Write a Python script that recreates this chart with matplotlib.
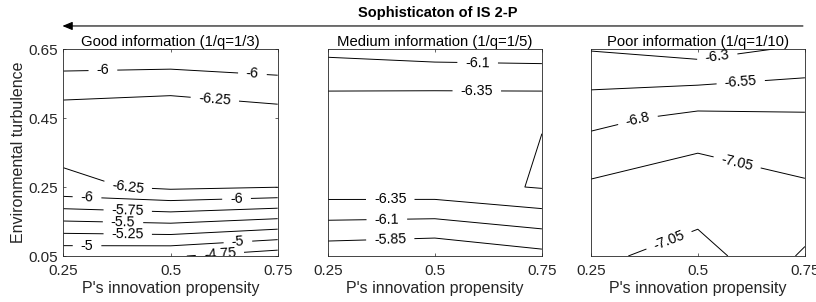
import numpy as np
import matplotlib
matplotlib.use('Agg')
import matplotlib.pyplot as plt

plt.rcParams['font.family'] = ['Liberation Sans', 'DejaVu Sans']

# grid of the simulation: innovation propensity (x) and turbulence (y)
propensity = [0.25, 0.5, 0.75]
turbulence = [0.05, 0.25, 0.45, 0.65]

# performance values, one row per turbulence level
good_info = [
    [-4.790, -4.775, -4.610],
    [-6.190, -6.300, -6.255],
    [-6.405, -6.461, -6.369],
    [-5.810, -5.810, -5.774],
]
medium_info = [
    [-5.670, -5.618, -5.765],
    [-6.500, -6.510, -6.617],
    [-6.549, -6.588, -6.595],
    [-6.039, -5.986, -5.967],
]
poor_info = [
    [-7.110, -6.939, -7.335],
    [-7.091, -7.225, -7.080],
    [-6.731, -6.868, -6.842],
    [-6.287, -6.200, -6.341],
]

good_levels = [-6.25, -6, -5.75, -5.5, -5.25, -5, -4.75]
medium_levels = [-6.6, -6.35, -6.1, -5.85]
poor_levels = [-7.3, -7.05, -6.8, -6.55, -6.3]

titles = ['Good information (1/q=1/3)', 'Medium information (1/q=1/5)',
          'Poor information (1/q=1/10)']
xticks = [0.25, 0.5, 0.75]
yticks = [0.05, 0.25, 0.45, 0.65]

# where the inline labels sit
good_lab = [(0.342, 0.59), (0.691, 0.577), (0.603, 0.50), (0.40, 0.25),
            (0.305, 0.222), (0.654, 0.215), (0.40, 0.183), (0.389, 0.15),
            (0.40, 0.117), (0.305, 0.08), (0.657, 0.094), (0.615, 0.058)]
medium_lab = [(0.60, 0.607), (0.598, 0.528), (0.396, 0.214),
              (0.388, 0.156), (0.396, 0.10)]
poor_lab = [(0.545, 0.632), (0.60, 0.558), (0.361, 0.44),
            (0.592, 0.322), (0.436, 0.085)]

grey = '#262626'
fig = plt.figure(figsize=(8.16, 3.02), dpi=100)
lefts = [0.0778, 0.4016, 0.7239]
data = [good_info, medium_info, poor_info]
levels = [good_levels, medium_levels, poor_levels]
labs = [good_lab, medium_lab, poor_lab]

X, Y = np.meshgrid(propensity, turbulence)
for i in range(3):
    ax = fig.add_axes([lefts[i], 0.1523, 0.2625, 0.6854])
    cs = ax.contour(X, Y, np.array(data[i]), levels=levels[i],
                    colors='black', linewidths=0.7, linestyles='solid')
    ax.clabel(cs, fmt='%g', fontsize=10.3, inline=True, inline_spacing=8,
              manual=labs[i])
    ax.set_xlim(0.25, 0.75)
    ax.set_ylim(0.05, 0.65)
    ax.set_xticks(xticks)
    ax.set_xticklabels(['0.25', '0.5', '0.75'])
    if i == 0:
        ax.set_yticks(yticks)
        ax.set_yticklabels(['0.05', '0.25', '0.45', '0.65'])
        ax.set_ylabel('Environmental turbulence', fontsize=11.5, color=grey,
                      labelpad=1.5)
    else:
        ax.set_yticks([])
    ax.tick_params(direction='in', length=2.5, width=0.5, labelsize=11,
                   colors=grey, top=True, right=True)
    ax.tick_params(axis='x', pad=5.5)
    ax.tick_params(axis='y', pad=4)
    for s in ax.spines.values():
        s.set_linewidth(0.6)
        s.set_color(grey)
    ax.set_xlabel("P's innovation propensity", fontsize=11.5, color=grey,
                  labelpad=2.5)
    ax.set_title(titles[i], fontsize=10.7, pad=2)

fig.text(0.537, 0.957, 'Sophisticaton of IS 2-P', ha='center', va='center',
         fontsize=10.5, fontweight='bold')
fig.add_artist(matplotlib.patches.FancyArrowPatch(
    (0.984, 0.914), (0.0765, 0.914), transform=fig.transFigure,
    arrowstyle='-|>,head_length=6,head_width=2.5', color='black',
    linewidth=0.8, shrinkA=0, shrinkB=0))

fig.savefig('out.png', dpi=100)
